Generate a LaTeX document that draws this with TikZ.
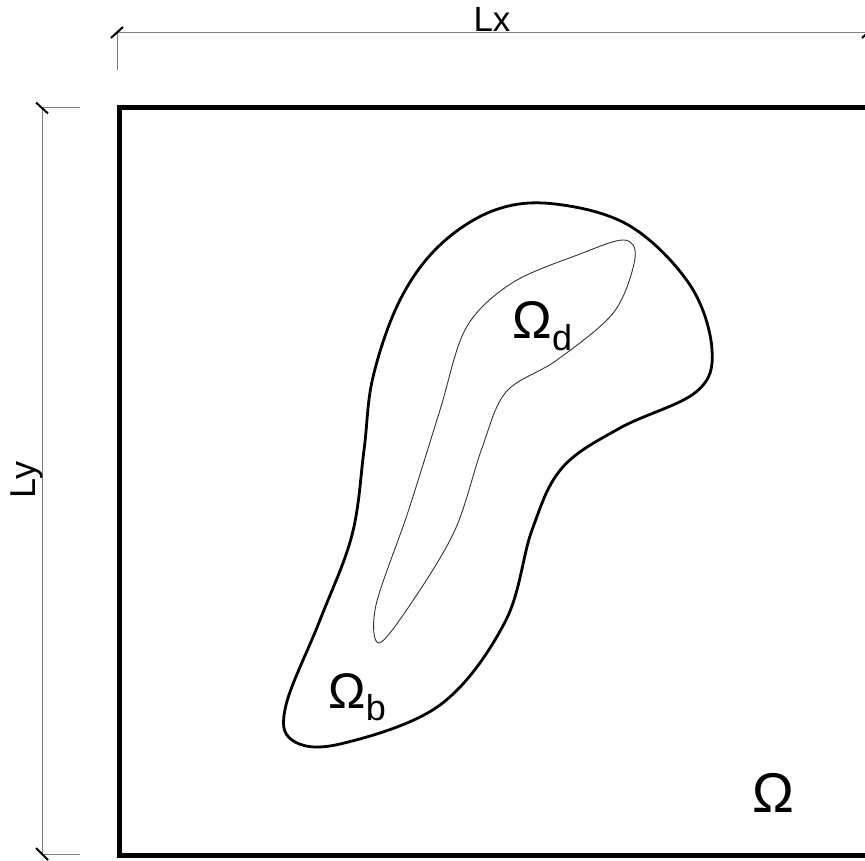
\documentclass[tikz,border=0pt]{standalone}
\usepackage{fontspec}
\setmainfont{Liberation Sans}
\usepackage{tikz}
\tikzstyle{dimline}=[gray, line width=0.5pt]
\tikzstyle{dimtick}=[black, line width=1pt]
\tikzstyle{frame}=[black, line width=2.5pt]
\tikzstyle{bound}=[black, line width=1.4pt]
\tikzstyle{inner}=[black!80, line width=0.45pt]
\tikzstyle{lbl}=[inner sep=0pt, anchor=base west]
\newcommand{\lowidx}[1]{\raisebox{-6pt}{\fontsize{18}{18}\selectfont #1}}

\begin{document}
\begin{tikzpicture}[x=0.5pt, y=-0.5pt]
				\useasboundingbox (0,0) rectangle (865,860);
				\clip (0,0) rectangle (865,860);

				\coordinate (tl) at (119,107.5);
				\coordinate (br) at (872,855);

				\coordinate (xl) at (117,33);
				\coordinate (xr) at (868,33);
				\coordinate (xle) at (117,70);
				\coordinate (xre) at (868,70);
				\coordinate (yt) at (42,107.5);
				\coordinate (yb) at (42,854);
				\coordinate (yte) at (80,107.5);
				\coordinate (ybe) at (80,854);

				% domain
				\draw[frame] (tl) rectangle (br);

				% dimension Lx
				\draw[dimline] (xl) -- (xr);
				\draw[dimline] (xl) -- (xle);
				\draw[dimline] (xr) -- (xre);
				\draw[dimtick] ([shift={(-6,5)}]xl) -- ([shift={(6,-6)}]xl);
				\draw[dimtick] ([shift={(-6,5)}]xr) -- ([shift={(6,-6)}]xr);
				\node[inner sep=0pt, anchor=base] (lx) at (492,32) {\fontsize{17.5}{18}\selectfont Lx};

				% dimension Ly
				\draw[dimline] (yt) -- (yb);
				\draw[dimline] (yt) -- (yte);
				\draw[dimline] (yb) -- (ybe);
				\draw[dimtick] ([shift={(-6,-5)}]yt) -- ([shift={(6,6)}]yt);
				\draw[dimtick] ([shift={(-6,-6)}]yb) -- ([shift={(6,6)}]yb);
				\node[inner sep=0pt, anchor=base, rotate=90] (ly) at (35,480) {\fontsize{18}{18}\selectfont Ly};

				% outer region
				\draw[bound] plot[smooth cycle, tension=0.6] coordinates {
					(555,204) (630,226) (690,285) (712,350) (696,392)
					(620,428) (562,468) (532,530) (505,622) (440,705)
					(340,744) (292,740) (286,705) (320,620) (352,535)
					(364,450) (373,377) (400,300) (440,245) (495,210)};

				% inner region
				\draw[inner] plot[smooth cycle, tension=0.55] coordinates {
					(624,240) (635,258) (614,312) (557,360) (506,392)
					(482,448) (455,530) (412,602) (379,643) (376,605)
					(408,512) (440,410) (466,328) (512,283) (580,254)};

				\node[lbl] (omd) at (512,338) {\fontsize{26.5}{27}\selectfont Ω\lowidx{d}};
				\node[lbl] (omb) at (328,708) {\fontsize{25}{26}\selectfont Ω\lowidx{b}};
				\node[lbl] (om) at (752,812) {\fontsize{28}{28}\selectfont Ω};
			\end{tikzpicture}
\end{document}
